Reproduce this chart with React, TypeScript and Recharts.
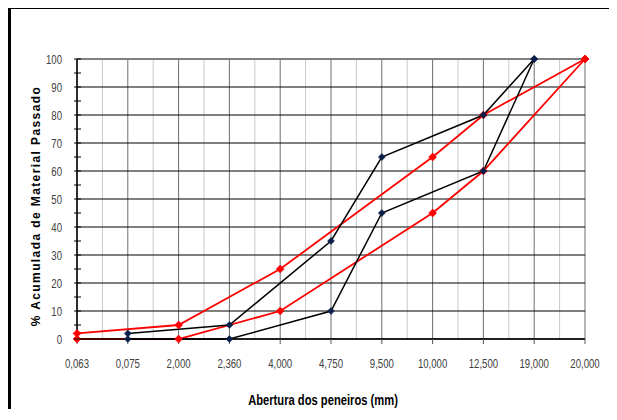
import React from 'react';
import { LineChart, Line, XAxis, YAxis, CartesianGrid, ReferenceLine, Label } from 'recharts';

const FONT = "'Liberation Sans', Arial, sans-serif";
const NARROW = 0.8; // horizontal squeeze to imitate Arial Narrow

// sieve openings (mm) shown as categories
const sieves = ['0,063', '0,075', '2,000', '2,360', '4,000', '4,750', '9,500', '10,000', '12,500', '19,000', '20,000'];
// red envelope (limits)
const redUpper = [2, null, 5, null, 25, null, null, 65, 80, null, 100];
const redLower = [0, null, 0, null, 10, null, null, 45, 60, null, 100];
// black curves
const blackUpper = [null, 2, null, 5, null, 35, 65, null, 80, 100, null];
const blackLower = [null, 0, null, 0, null, 10, 45, null, 60, 100, null];

const yTicks = [0, 5, 10, 15, 20, 25, 30, 35, 40, 45, 50, 55, 60, 65, 70, 75, 80, 85, 90, 95, 100];
const yGrid = [0, 10, 20, 30, 40, 50, 60, 70, 80, 90];

const data = sieves.map((s, i) => ({
  sieve: s,
  redUpper: redUpper[i],
  redLower: redLower[i],
  blackUpper: blackUpper[i],
  blackLower: blackLower[i],
}));

const diamond = (fill: string, r: number) => (props: any) => {
  const { cx, cy, value, index } = props;
  if (value == null || cx == null || cy == null || isNaN(cy)) return <g key={`d-${index}`} />;
  return (
    <path
      key={`d-${index}`}
      d={`M${cx},${cy - r}L${cx + r},${cy}L${cx},${cy + r}L${cx - r},${cy}Z`}
      fill={fill}
      stroke={fill}
      strokeWidth={0.5}
    />
  );
};

const narrowText = (x: number, y: number, anchor: string, size: number, label: any, bold = false, fill = '#404040') => (
  <text
    transform={`translate(${x},${y}) scale(${NARROW},1)`}
    textAnchor={anchor}
    fontSize={size}
    fontWeight={bold ? 'bold' : 'normal'}
    fontFamily={FONT}
    fill={fill}
  >
    {label}
  </text>
);

const YTick = (props: any) => {
  const { x, y, payload } = props;
  const v = payload.value;
  return (
    <g>
      <line x1={x - 3} x2={x + 4} y1={y} y2={y} stroke="#000" strokeWidth={1} />
      {v % 10 === 0 && narrowText(x - 15, y + 5, 'end', 12, v)}
    </g>
  );
};

const XTick = (props: any) => {
  const { x, y, payload } = props;
  return <g>{narrowText(x, y + 9, 'middle', 12, payload.value)}</g>;
};

const App: React.FC = () => {
  return (
    <div
      style={{
        position: 'relative',
        marginTop: -2,
        width: 606,
        height: 400,
        borderTop: '3px solid #000',
        borderLeft: '3px solid #000',
        background: '#fff',
      }}
    >
      <LineChart width={606} height={400} data={data} margin={{ top: 50, right: 32, bottom: 0, left: 0 }}>
        <CartesianGrid
          horizontal={false}
          stroke="#c8c8c8"
          verticalCoordinatesGenerator={({ offset }: any) =>
            sieves.slice(1).map((_, k) => offset.left + (offset.width * (k + 0.5)) / (sieves.length - 1))
          }
        />
        <CartesianGrid horizontal={false} stroke="#6e6e6e" />
        <CartesianGrid
          vertical={false}
          stroke="#000"
          horizontalCoordinatesGenerator={({ offset }: any) =>
            yGrid.map((v) => offset.top + offset.height * (1 - v / 100))
          }
        />
        <ReferenceLine y={100} stroke="#808080" strokeWidth={2} />
        <XAxis
          dataKey="sieve"
          interval={0}
          height={70}
          tickSize={5}
          tickMargin={15}
          axisLine={{ stroke: '#000', strokeWidth: 1.5 }}
          tickLine={{ stroke: '#555' }}
          tick={<XTick />}
        >
          <Label
            content={(p: any) => {
              const vb = p.viewBox;
              return narrowText(vb.x + vb.width / 2 - 8, vb.y + 66, 'middle', 14, 'Abertura dos peneiros (mm)', true, '#000');
            }}
          />
        </XAxis>
        <YAxis
          type="number"
          domain={[0, 100]}
          ticks={yTicks}
          interval={0}
          width={66}
          tickSize={0}
          tickMargin={0}
          tickLine={false}
          axisLine={{ stroke: '#000', strokeWidth: 1.5 }}
          tick={<YTick />}
        >
          <Label
            content={(p: any) => {
              const vb = p.viewBox;
              const cx = vb.x + 29;
              const cy = vb.y + vb.height / 2 + 7;
              return (
                <text
                  x={cx}
                  y={cy}
                  transform={`rotate(-90, ${cx}, ${cy})`}
                  textAnchor="middle"
                  fontSize={12}
                  fontWeight="bold"
                  letterSpacing={1.4}
                  fontFamily={FONT}
                  fill="#000"
                >
                  % Acumulada de Material Passado
                </text>
              );
            }}
          />
        </YAxis>
        <Line
          dataKey="redUpper"
          stroke="#ff0000"
          strokeWidth={1.8}
          connectNulls
          isAnimationActive={false}
          dot={diamond('#ff0000', 4)}
          activeDot={false}
        />
        <Line
          dataKey="redLower"
          stroke="#ff0000"
          strokeWidth={1.8}
          connectNulls
          isAnimationActive={false}
          dot={diamond('#ff0000', 4)}
          activeDot={false}
        />
        <Line
          dataKey="blackUpper"
          stroke="#000"
          strokeWidth={1.5}
          connectNulls
          isAnimationActive={false}
          dot={diamond('#0b1f4a', 3.5)}
          activeDot={false}
        />
        <Line
          dataKey="blackLower"
          stroke="#000"
          strokeWidth={1.5}
          connectNulls
          isAnimationActive={false}
          dot={diamond('#0b1f4a', 3.5)}
          activeDot={false}
        />
      </LineChart>
    </div>
  );
};

export default App;
